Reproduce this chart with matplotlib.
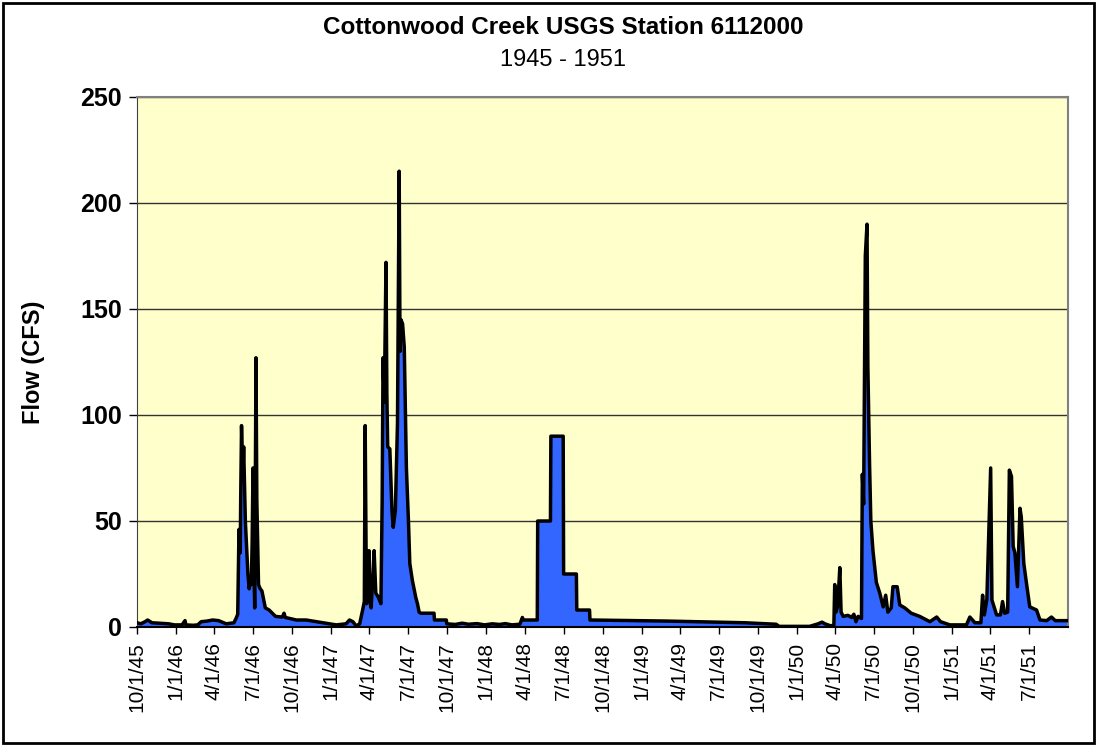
import pandas as pd
import matplotlib
matplotlib.use('Agg')
import matplotlib.pyplot as plt
from matplotlib.patches import Rectangle

plt.rcParams['font.family'] = ['Liberation Sans', 'DejaVu Sans']

# daily flow record, Cottonwood Creek (CFS)
dates = [
    '1945-10-01', '1945-10-10', '1945-10-20', '1945-10-26', '1945-11-05', '1945-11-20',
    '1945-12-15', '1945-12-28', '1946-01-15', '1946-01-22', '1946-01-24', '1946-02-10',
    '1946-02-21', '1946-03-01', '1946-03-15', '1946-03-28', '1946-04-11', '1946-04-29',
    '1946-05-17', '1946-05-22', '1946-05-26', '1946-05-29', '1946-06-01', '1946-06-02',
    '1946-06-04', '1946-06-07', '1946-06-09', '1946-06-13', '1946-06-19', '1946-06-22',
    '1946-06-25', '1946-06-27', '1946-06-29', '1946-07-01', '1946-07-03', '1946-07-05',
    '1946-07-08', '1946-07-10', '1946-07-14', '1946-07-18', '1946-07-22', '1946-07-30',
    '1946-08-08', '1946-08-23', '1946-09-08', '1946-09-12', '1946-09-15', '1946-10-11',
    '1946-11-03', '1946-11-27', '1946-12-28', '1947-01-13', '1947-02-05', '1947-02-13',
    '1947-02-21', '1947-03-01', '1947-03-09', '1947-03-16', '1947-03-20', '1947-03-22',
    '1947-03-25', '1947-03-28', '1947-03-31', '1947-04-02', '1947-04-05', '1947-04-08',
    '1947-04-12', '1947-04-16', '1947-04-22', '1947-04-28', '1947-05-01', '1947-05-03',
    '1947-05-06', '1947-05-10', '1947-05-12', '1947-05-14', '1947-05-19', '1947-05-24',
    '1947-05-27', '1947-06-01', '1947-06-06', '1947-06-10', '1947-06-12', '1947-06-14',
    '1947-06-18', '1947-06-22', '1947-06-27', '1947-07-02', '1947-07-05', '1947-07-11',
    '1947-07-19', '1947-07-23', '1947-07-27', '1947-07-31', '1947-08-31', '1947-09-01',
    '1947-09-29', '1947-09-30', '1947-10-20', '1947-11-05', '1947-11-20', '1947-12-10',
    '1947-12-28', '1948-01-15', '1948-02-01', '1948-02-15', '1948-03-01', '1948-03-20',
    '1948-03-26', '1948-03-28', '1948-04-30', '1948-05-01', '1948-05-31', '1948-06-01',
    '1948-06-30', '1948-07-01', '1948-07-31', '1948-08-01', '1948-08-31', '1948-09-01',
    '1949-03-01', '1949-09-01', '1949-11-13', '1949-11-20', '1950-01-31', '1950-02-20',
    '1950-03-01', '1950-03-08', '1950-03-22', '1950-03-29', '1950-03-31', '1950-04-03',
    '1950-04-07', '1950-04-12', '1950-04-15', '1950-04-20', '1950-05-01', '1950-05-10',
    '1950-05-15', '1950-05-20', '1950-05-25', '1950-06-02', '1950-06-04', '1950-06-07',
    '1950-06-09', '1950-06-11', '1950-06-15', '1950-06-17', '1950-06-21', '1950-06-24',
    '1950-06-29', '1950-07-07', '1950-07-15', '1950-07-23', '1950-07-29', '1950-08-03',
    '1950-08-11', '1950-08-15', '1950-08-25', '1950-08-31', '1950-09-12', '1950-09-27',
    '1950-10-17', '1950-11-10', '1950-11-26', '1950-12-05', '1950-12-27', '1951-02-04',
    '1951-02-12', '1951-02-24', '1951-03-10', '1951-03-14', '1951-03-18', '1951-03-24',
    '1951-04-02', '1951-04-05', '1951-04-16', '1951-04-25', '1951-04-30', '1951-05-05',
    '1951-05-12', '1951-05-16', '1951-05-21', '1951-05-25', '1951-05-29', '1951-06-04',
    '1951-06-10', '1951-06-13', '1951-06-19', '1951-06-25', '1951-07-03', '1951-07-19',
    '1951-07-27', '1951-08-12', '1951-08-23', '1951-09-01', '1951-09-30',
]
flow = [
    2, 1.5, 2.5, 3.3, 2, 1.8,
    1.5, 1, 1, 3, 1, 0.8,
    1, 2.5, 2.8, 3.3, 3, 1.5,
    2, 4, 6, 46, 35, 60,
    95, 70, 85, 50, 25, 18,
    22, 20, 40, 75, 30, 9,
    127, 60, 20, 18, 17, 9,
    8, 5, 4.7, 6.5, 4.5, 3.3,
    3.3, 2.5, 1.5, 1, 1.5, 3.3,
    2.5, 0.5, 1.5, 8, 12, 95,
    11, 18, 36, 12, 9, 20,
    36, 16, 14, 11, 60, 127,
    106, 172, 110, 85, 84, 55,
    47, 55, 96, 215, 130, 145,
    143, 132, 75, 49, 30, 22,
    14, 11, 7, 6.5, 6.5, 3.3,
    3.3, 1.5, 1.2, 1.8, 1.3, 1.6,
    1.0, 1.5, 1.2, 1.6, 1.0, 1.3,
    4.5, 3.3, 3.3, 50, 50, 90,
    90, 25, 25, 8, 8, 3.3,
    2.8, 2, 1.3, 0.3, 0.3, 1.5,
    2.3, 1.5, 0.5, 1, 20, 7,
    10, 28, 7, 5, 5.5, 4.5,
    6, 2.5, 5, 4, 72, 58,
    120, 175, 190, 123, 77, 50,
    36, 21, 16, 9.5, 15, 7,
    9, 19, 19, 10.4, 9, 6.5,
    5, 2.5, 4.7, 2.5, 1, 1,
    4.7, 2, 2, 15, 5.7, 13,
    75, 12.7, 5.7, 5.7, 12, 6.5,
    7, 74, 71, 38, 35, 19,
    56, 52, 30, 21, 9.5, 8,
    3.3, 3, 4.7, 3, 3,
]

tick_dates = pd.date_range('1945-10-01', '1951-07-01', freq='QS-OCT')
tick_labels = ['%d/1/%s' % (d.month, str(d.year)[2:]) for d in tick_dates]
y_ticks = [0, 50, 100, 150, 200, 250]

x = pd.to_datetime(dates)

fig = plt.figure(figsize=(10.98, 7.46), dpi=100)
ax = fig.add_axes([137 / 1098, 1 - 627 / 746, 931 / 1098, 530 / 746])
ax.set_facecolor('#FFFFCC')

ax.fill_between(x, flow, 0, color='#3366FF', linewidth=0, zorder=2)
ax.plot(x, flow, color='black', linewidth=2.5, zorder=3)

ax.set_xlim(pd.Timestamp('1945-10-01'), pd.Timestamp('1951-10-01'))
ax.set_ylim(0, 250)
ax.set_yticks(y_ticks)
ax.set_yticklabels([str(v) for v in y_ticks], fontsize=18, fontweight='bold')
ax.set_xticks(tick_dates)
ax.set_xticklabels(tick_labels, rotation=90, fontsize=15, va='top')
ax.tick_params(axis='y', length=6, width=1, pad=5, direction='out')
ax.tick_params(axis='x', length=5, width=1, pad=6, direction='out')
ax.yaxis.grid(True, color='#333333', linewidth=1)
ax.set_axisbelow(True)

for side in ['top', 'right']:
    ax.spines[side].set_color('#808080')
    ax.spines[side].set_linewidth(1.5)
ax.spines['left'].set_color('#404040')
ax.spines['bottom'].set_color('black')
ax.spines['bottom'].set_linewidth(1.5)
ax.spines['bottom'].set_zorder(4)

ax.set_ylabel('Flow (CFS)', fontsize=17, fontweight='bold')
ax.yaxis.set_label_coords(-0.099, 0.5)

fig.text(563 / 1098, 1 - 28 / 746, 'Cottonwood Creek USGS Station 6112000',
         ha='center', va='center', fontsize=17.5, fontweight='bold')
fig.text(563 / 1098, 1 - 60 / 746, '1945 - 1951', ha='center', va='center', fontsize=17)

fig.patches.append(Rectangle((0.003, 0.004), 0.993, 0.992, transform=fig.transFigure,
                             fill=False, edgecolor='black', linewidth=2))

fig.savefig('out.png', dpi=100)
